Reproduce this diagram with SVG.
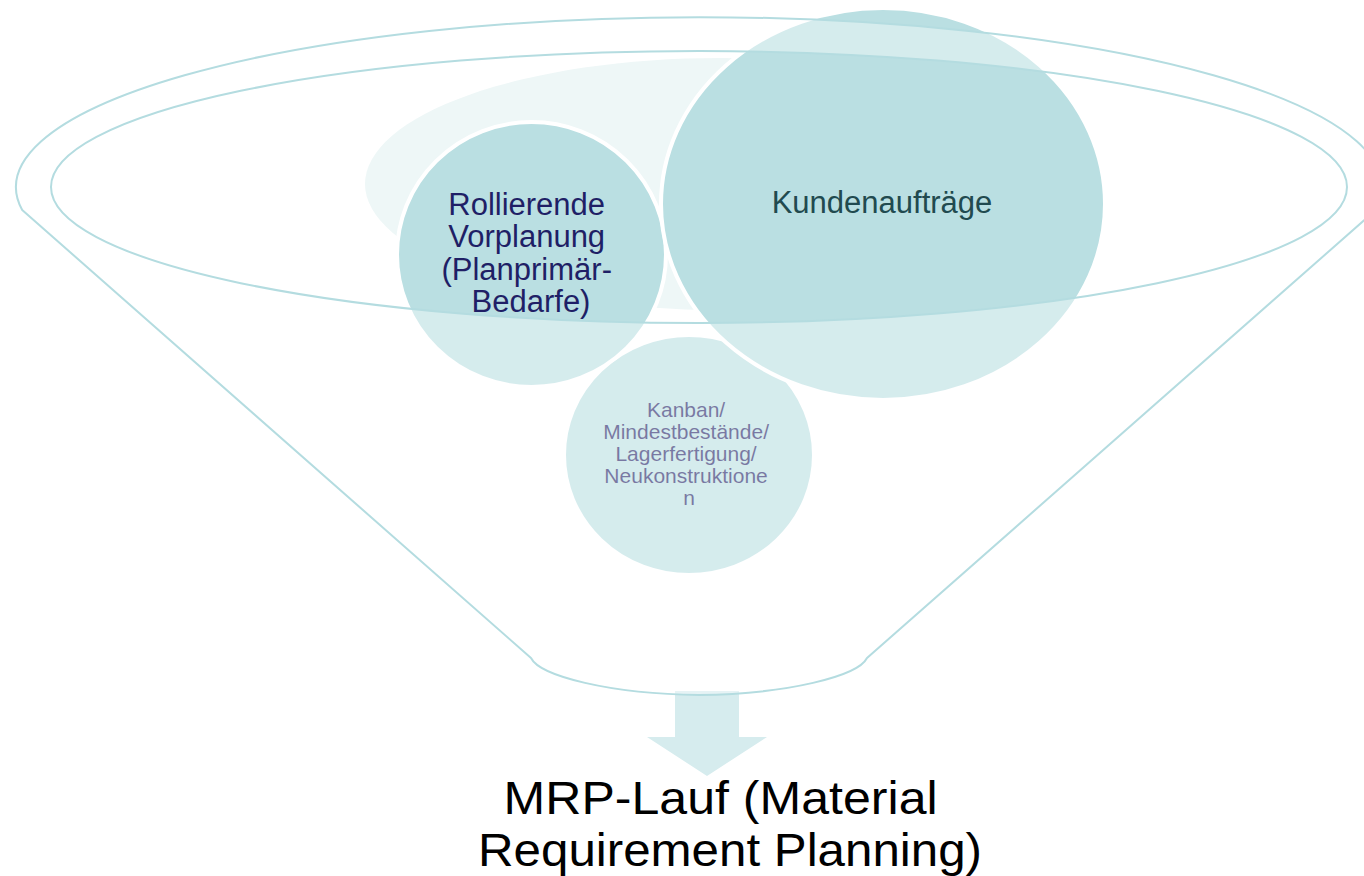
<svg xmlns="http://www.w3.org/2000/svg" width="1364" height="876" viewBox="0 0 1364 876">
<style>
.circ{fill:#badfe2;stroke:#ffffff;stroke-width:4}
.t{font-family:"Liberation Sans",Arial,sans-serif;text-anchor:middle}
.funnel{fill:#ffffff;fill-opacity:0.4;fill-rule:evenodd;stroke:#b4dce0;stroke-width:2;stroke-linejoin:round}
</style>
<rect width="1364" height="876" fill="#ffffff"/>
<ellipse id="backdrop" cx="720" cy="184" rx="355" ry="126" fill="#eef7f7"/>
<g id="node-kanban">
<ellipse class="circ" cx="689" cy="455" rx="125" ry="120"/>
<text class="t" font-size="21" fill="#1f1f66">
<tspan x="689" y="417">Kanban/</tspan>
<tspan x="689" y="439">Mindestbestände/</tspan>
<tspan x="689" y="461">Lagerfertigung/</tspan>
<tspan x="689" y="483">Neukonstruktione</tspan>
<tspan x="689" y="505">n</tspan>
</text>
</g>
<g id="node-rollierende">
<ellipse class="circ" cx="531.5" cy="254.5" rx="134.5" ry="132.5"/>
<text class="t" font-size="31" fill="#1f1f66">
<tspan x="531" y="215">Rollierende</tspan>
<tspan x="531" y="247">Vorplanung</tspan>
<tspan x="531" y="280">(Planprimär-</tspan>
<tspan x="531" y="312">Bedarfe)</tspan>
</text>
</g>
<g id="node-kunden">
<ellipse class="circ" cx="883" cy="204" rx="222" ry="196"/>
<text class="t" font-size="31" fill="#214a4f" x="882" y="213">Kundenaufträge</text>
</g>
<g id="connectors">
<polygon points="675,691 739,691 739,737 767,737 707,776 647,737 675,737" fill="#d6ecee"/>
</g>
<g id="funnel">
<path class="funnel" d="M 22.2 210 A 683 170 0 1 1 1375.8 210 L 867 658 C 858 676 788 694 699 695 C 610 694 540 676 531 658 Z M 51 187 A 648 136 0 1 0 1347 187 A 648 136 0 1 0 51 187 Z"/>
</g>
<g id="node-mrp">
<text class="t" font-size="46" fill="#000000">
<tspan x="727" y="814" textLength="434" lengthAdjust="spacingAndGlyphs">MRP-Lauf (Material</tspan>
<tspan x="730" y="866" textLength="504" lengthAdjust="spacingAndGlyphs">Requirement Planning)</tspan>
</text>
</g>
</svg>
